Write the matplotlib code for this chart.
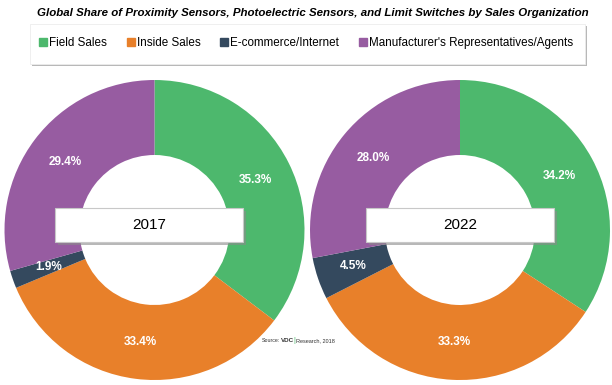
"""Global share of sensors/switches by sales organization, 2017 vs 2022."""

import matplotlib
matplotlib.use('Agg')
from matplotlib import pyplot as plt
from matplotlib.patches import Rectangle

plt.rcParams['font.family'] = ['Liberation Sans', 'DejaVu Sans']

categories = ['Field Sales', 'Inside Sales', 'E-commerce/Internet',
              "Manufacturer's Representatives/Agents"]
years = ['2017', '2022']
share_2017 = [35.3, 33.4, 1.9, 29.4]
share_2022 = [34.2, 33.3, 4.5, 28.0]
colors = ['#4db86d', '#e8802a', '#34495e', '#975ca1']

W, H = 612, 385
fig = plt.figure(figsize=(W / 100, H / 100), dpi=100)


def px_axes(x0, y0, x1, y1):
    # pixel box (top-left origin) -> figure axes
    return fig.add_axes([x0 / W, 1 - y1 / H, (x1 - x0) / W, (y1 - y0) / H])


pies = [(4.5, share_2017, (-0.663, 0.590)), (310, share_2022, (-0.627, 0.627))]
for (x0, vals, (bx0, bx1)), year in zip(pies, years):
    ax = px_axes(x0, 80, x0 + 300, 380)
    wedges, texts, autotexts = ax.pie(
        vals, colors=colors, startangle=90, counterclock=False,
        radius=1, wedgeprops=dict(width=0.5, linewidth=0),
        autopct=lambda p: '%.1f%%' % p, pctdistance=0.75)
    for t in autotexts:
        t.set_color('white')
        t.set_fontsize(8.5)
        t.set_fontweight('bold')
    ax.set_xlim(-1, 1)
    ax.set_ylim(-1, 1)
    ax.set_aspect('equal')
    # year label box with shadow
    by0, by1 = -0.08, 0.147
    ax.add_patch(Rectangle((bx0 + 0.018, by0 - 0.018), bx1 - bx0, by1 - by0,
                           facecolor='#8a8a8a', edgecolor='none',
                           alpha=0.6, zorder=5, clip_on=False))
    ax.add_patch(Rectangle((bx0, by0), bx1 - bx0, by1 - by0,
                           facecolor='white', edgecolor='#c8c8c8',
                           linewidth=0.8, zorder=6, clip_on=False))
    ax.text((bx0 + bx1) / 2, (by0 + by1) / 2, year, ha='center',
            va='center', fontsize=11, zorder=7)

# title
fig.text(313 / W, 1 - 13 / H,
         'Global Share of Proximity Sensors, Photoelectric Sensors, and Limit Switches by Sales Organization',
         ha='center', va='center', fontsize=8.25, fontweight='bold',
         fontstyle='italic')

# legend box with shadow
lx0, ly0, lx1, ly1 = 30, 24, 585, 64
fig.patches.append(Rectangle(((lx0 + 2) / W, 1 - (ly1 + 2) / H),
                             (lx1 - lx0) / W, (ly1 - ly0) / H,
                             transform=fig.transFigure, facecolor='#9a9a9a',
                             edgecolor='none', alpha=0.7, zorder=0))
fig.patches.append(Rectangle((lx0 / W, 1 - ly1 / H),
                             (lx1 - lx0) / W, (ly1 - ly0) / H,
                             transform=fig.transFigure, facecolor='white',
                             edgecolor='#ececec', linewidth=0.6, zorder=1))
handles = [plt.Line2D([], [], marker='s', linestyle='none', color=c,
                      markersize=5.5) for c in colors]
leg = fig.legend(handles, categories, loc='center',
                 bbox_to_anchor=(306 / W, 1 - 43 / H), ncol=4, frameon=False,
                 fontsize=8.4, handlelength=0.7, handletextpad=0.15,
                 columnspacing=1.7)

# source note
fig.text(280 / W, 1 - 341 / H, 'Source:', fontsize=3.8, ha='right',
         va='center', color='#333333')
fig.text(281 / W, 1 - 341 / H, 'VDC', fontsize=4.5, fontweight='bold',
         ha='left', va='center', color='#333333')
fig.text(293 / W, 1 - 341 / H, '|', fontsize=5, ha='left', va='center',
         color='#4db86d')
fig.text(296 / W, 1 - 341 / H, 'Research, 2018', fontsize=4, ha='left',
         va='center', color='#333333')

fig.savefig('out.png', dpi=100)
